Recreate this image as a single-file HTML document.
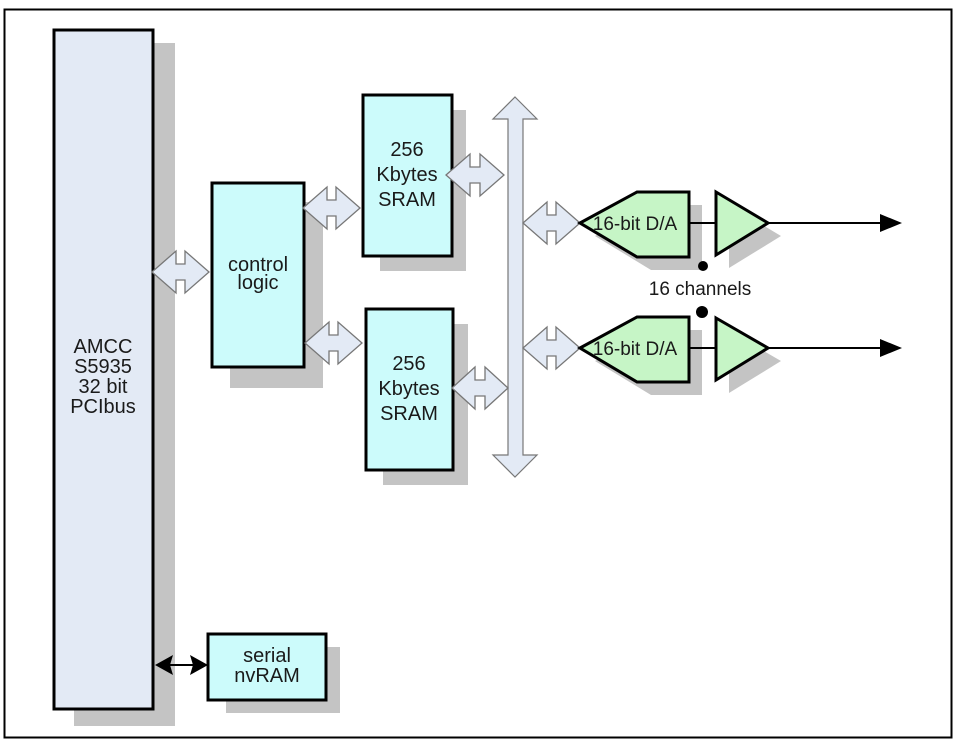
<!DOCTYPE html>
<html><head><style>body{margin:0;background:#fff}svg{display:block}text{font-family:"Liberation Sans",Arial,sans-serif;fill:#1a1a1a}</style></head><body>
<svg width="959" height="745" viewBox="0 0 959 745" xmlns="http://www.w3.org/2000/svg">
<rect x="4.5" y="9.5" width="947" height="728" fill="#fff" stroke="#000" stroke-width="2"/>
<g fill="#c4c4c4">
<rect x="74" y="43" width="101" height="683"/>
<rect x="230" y="202" width="93" height="186"/>
<rect x="380" y="110" width="86" height="161"/>
<rect x="383" y="324" width="85" height="161"/>
<rect x="226" y="647" width="114" height="66"/>
<polygon points="595,236 651,205 702,205 702,270 651,270"/>
<polygon points="595,361 651,330 702,330 702,395 651,395"/>
<polygon points="729,205 781,236 729,268"/>
<polygon points="729,331 781,361 729,393"/>
</g>
<rect x="54" y="30" width="99" height="679" fill="#e3eaf5" stroke="#000" stroke-width="3"/>
<rect x="212" y="183" width="92" height="184" fill="#ccfbfb" stroke="#000" stroke-width="3"/>
<rect x="363" y="95" width="89" height="161" fill="#ccfbfb" stroke="#000" stroke-width="3"/>
<rect x="366" y="309" width="87" height="161" fill="#ccfbfb" stroke="#000" stroke-width="3"/>
<rect x="208" y="634" width="118" height="66" fill="#ccfbfb" stroke="#000" stroke-width="3"/>
<polygon points="515,97 537,119 523,119 523,455 537,455 515,477 493,455 508,455 508,119 493,119" fill="#e3eaf5" stroke="#777" stroke-width="1.2"/>
<g fill="#e3eaf5" stroke="#777" stroke-width="1.3">
<polygon points="152,272 176,251 176,264 185,264 185,251 209,272 185,293 185,280 176,280 176,293"/>
<polygon points="303,208 327,187 327,200 336,200 336,187 360,208 336,229 336,216 327,216 327,229"/>
<polygon points="305,343 329,322 329,335 338,335 338,322 362,343 338,364 338,351 329,351 329,364"/>
<polygon points="446,175 470,154 470,167 480,167 480,154 504,175 480,196 480,183 470,183 470,196"/>
<polygon points="452,388 475,367 475,380 485,380 485,367 508,388 485,409 485,396 475,396 475,409"/>
<polygon points="523,223 547,202 547,215 556,215 556,202 580,223 556,244 556,231 547,231 547,244"/>
<polygon points="523,348 547,327 547,340 556,340 556,327 580,348 556,369 556,356 547,356 547,369"/>
</g>
<g fill="#c6f5c6" stroke="#000" stroke-width="3">
<polygon points="580,223 637,192 689,192 689,257 637,257"/>
<polygon points="580,348 637,317 689,317 689,382 637,382"/>
<polygon points="716,192 768,223 716,255"/>
<polygon points="716,318 768,348 716,380"/>
</g>
<g stroke="#000" stroke-width="2">
<line x1="689" y1="223" x2="716" y2="223"/>
<line x1="689" y1="348" x2="716" y2="348"/>
<line x1="768" y1="223" x2="885" y2="223"/>
<line x1="768" y1="348" x2="885" y2="348"/>
<line x1="165" y1="665" x2="198" y2="665"/>
</g>
<path d="M902,223 L880,214 L880,232 z M902,348 L880,339 L880,357 z" fill="#000"/>
<path d="M155,665 L173,655 L170,665 L173,675 z M208,665 L190,655 L193,665 L190,675 z" fill="#000"/>
<circle cx="703" cy="266" r="5" fill="#000"/>
<circle cx="702" cy="312" r="6" fill="#000"/>
<g font-size="20" text-anchor="middle">
<text x="103" y="353">AMCC</text>
<text x="103" y="373">S5935</text>
<text x="103" y="393">32 bit</text>
<text x="103" y="413">PCIbus</text>
<text x="258" y="271">control</text>
<text x="258" y="289">logic</text>
<text x="407" y="156">256</text>
<text x="407" y="181">Kbytes</text>
<text x="407" y="206">SRAM</text>
<text x="409" y="370">256</text>
<text x="409" y="395">Kbytes</text>
<text x="409" y="420">SRAM</text>
<text x="267" y="662">serial</text>
<text x="267" y="682">nvRAM</text>
<text x="700" y="295" font-size="19">16 channels</text>
<text x="635" y="230" font-size="19">16-bit D/A</text>
<text x="635" y="355" font-size="19">16-bit D/A</text>
</g>
</svg>
</body></html>
